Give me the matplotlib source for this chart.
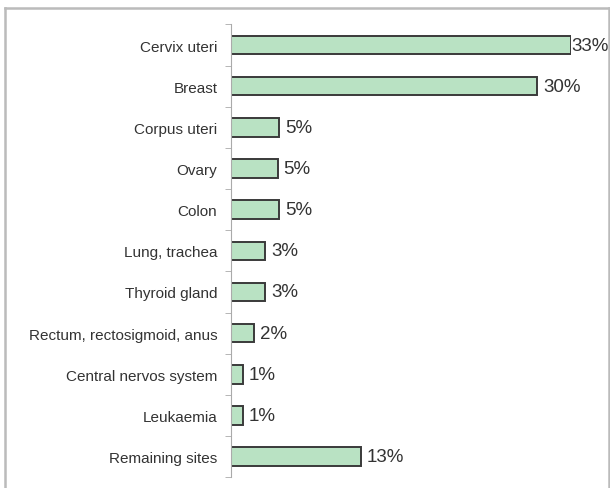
import matplotlib.pyplot as plt
from matplotlib.lines import Line2D

plt.rcParams['font.family'] = ['Liberation Sans', 'DejaVu Sans']

sites = ['Cervix uteri', 'Breast', 'Corpus uteri', 'Ovary', 'Colon',
         'Lung, trachea', 'Thyroid gland', 'Rectum, rectosigmoid, anus',
         'Central nervos system', 'Leukaemia', 'Remaining sites']
shares = [33.0, 29.7, 4.6, 4.5, 4.6, 3.3, 3.3, 2.2, 1.1, 1.1, 12.6]
share_labels = ['33%', '30%', '5%', '5%', '5%', '3%', '3%', '2%', '1%', '1%', '13%']

fig = plt.figure(figsize=(6.1, 4.89), dpi=100)
ax = fig.add_axes([0.379, 0.022, 0.557, 0.926])

ypos = list(range(len(sites)))
ax.barh(ypos, shares, height=0.45, color='#b9e2c3', edgecolor='#3a3a3a', linewidth=1.4)

for y, v, lab in zip(ypos, shares, share_labels):
    off = 0.0 if v > 32 else 0.6
    ax.text(v + off, y, lab, va='center', ha='left', fontsize=13.5, color='#333333')

ax.set_xlim(0, 33)
ax.set_ylim(len(sites) - 0.5, -0.5)
ax.set_yticks(ypos)
ax.set_yticklabels(sites, fontsize=11, color='#333333')
ax.tick_params(axis='y', which='major', length=0, pad=10)
ax.set_yticks([i - 0.5 for i in range(len(sites) + 1)], minor=True)
ax.tick_params(axis='y', which='minor', length=4, color='#aaaaaa', direction='out')
ax.set_xticks([])
for s in ['top', 'right', 'bottom']:
    ax.spines[s].set_visible(False)
ax.spines['left'].set_color('#aaaaaa')

# outer frame
for xs, ys in [([0.008, 0.998], [0.982, 0.982]), ([0.008, 0.008], [0.0, 0.982]),
               ([0.998, 0.998], [0.0, 0.982])]:
    fig.add_artist(Line2D(xs, ys, transform=fig.transFigure, color='#bbbbbb', lw=1.8))

fig.savefig('out.png', dpi=100)
